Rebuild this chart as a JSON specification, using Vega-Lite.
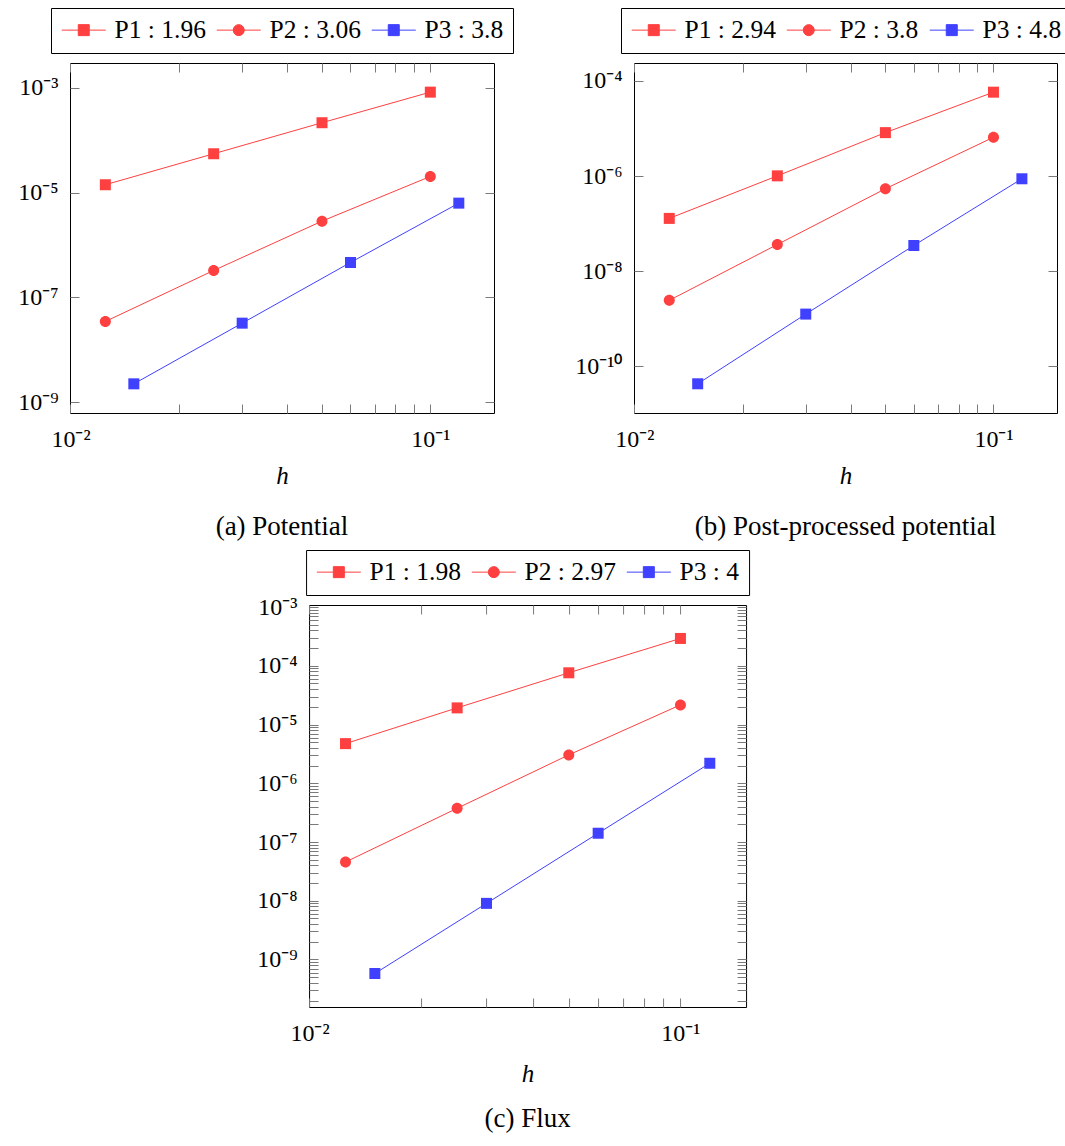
{
  "$schema": "https://vega.github.io/schema/vega-lite/v6.json",
  "background": "white",
  "padding": {"left": 17, "top": 7, "right": 0, "bottom": 0},
  "config": {
    "font": "Liberation Serif",
    "view": {"stroke": "black", "strokeWidth": 1},
    "axis": {"grid": false, "domain": false, "labelFont": "Liberation Serif", "labelFontSize": 24, "labelColor": "black", "tickColor": "#7a7a7a", "tickWidth": 1, "titleFont": "Liberation Serif", "titleFontSize": 25, "titleFontWeight": "normal", "titleFontStyle": "italic", "titleColor": "black", "labelOverlap": false, "labelFlush": false},
    "legend": {"orient": "top", "direction": "horizontal", "labelFont": "Liberation Serif", "labelFontSize": 25.5, "labelColor": "black", "labelOffset": 29, "columnPadding": 8, "padding": 9, "strokeColor": "black", "fillColor": "white", "offset": 9, "symbolSize": 484, "symbolStrokeWidth": 1, "layout": {"top": {"anchor": "middle"}}},
    "title": {"font": "Liberation Serif", "fontSize": 27, "fontWeight": "normal", "color": "black", "orient": "bottom", "anchor": "middle", "offset": 26}
  },
  "resolve": {"scale": {"color": "independent"}, "legend": {"color": "independent"}},
  "spacing": 8,
  "center": true,
  "vconcat": [
    {
      "spacing": 60,
      "resolve": {"scale": {"color": "independent"}, "legend": {"color": "independent"}},
      "hconcat": [
        {
          "title": {"text": "(a) Potential"},
          "width": 424, "height": 350,
          "data": {"values": [
            {"s": "P1 : 1.96", "h": 0.0125, "e": 1.41e-5}, {"s": "P1 : 1.96", "h": 0.025, "e": 5.5e-5}, {"s": "P1 : 1.96", "h": 0.05, "e": 2.15e-4}, {"s": "P1 : 1.96", "h": 0.1, "e": 8.24e-4},
            {"s": "P2 : 3.06", "h": 0.0125, "e": 3.47e-8}, {"s": "P2 : 3.06", "h": 0.025, "e": 3.26e-7}, {"s": "P2 : 3.06", "h": 0.05, "e": 2.85e-6}, {"s": "P2 : 3.06", "h": 0.1, "e": 2.03e-5},
            {"s": "P3 : 3.8", "h": 0.015, "e": 2.24e-9}, {"s": "P3 : 3.8", "h": 0.03, "e": 3.22e-8}, {"s": "P3 : 3.8", "h": 0.06, "e": 4.63e-7}, {"s": "P3 : 3.8", "h": 0.12, "e": 6.28e-6}
          ]},
          "layer": [
            {
              "mark": {"type": "line", "strokeWidth": 1},
              "encoding": {
                "x": {"field": "h", "type": "quantitative", "scale": {"type": "log", "domain": [0.00997, 0.1503], "nice": false},
                  "axis": {"orient": "bottom", "values": [0.01, 0.02, 0.03, 0.04, 0.05, 0.06, 0.07, 0.08, 0.09, 0.1], "tickSize": -9, "labelPadding": 23, "title": "h", "titlePadding": 12,
                    "labelExpr": "abs(log(datum.value)/LN10 - round(log(datum.value)/LN10)) < 0.001 ? '10' + replace(replace(replace(replace(replace(replace(replace(replace(replace(replace(replace('' + round(log(datum.value)/LN10), '-', '⁻'), '0', '⁰'), '1', '¹'), '2', '²'), '3', '³'), '4', '⁴'), '5', '⁵'), '6', '⁶'), '7', '⁷'), '8', '⁸'), '9', '⁹') : ''",
                    "encode": {"ticks": {"update": {"y2": {"signal": "abs(log(datum.value)/LN10 - round(log(datum.value)/LN10)) < 0.001 ? -9 : -6"}}}}}},
                "y": {"field": "e", "type": "quantitative", "scale": {"type": "log", "domain": [6.22e-10, 2.965e-3], "nice": false},
                  "axis": {"orient": "left", "values": [1e-9, 1e-7, 1e-5, 1e-3], "tickSize": -9, "labelPadding": 21, "title": null,
                    "labelExpr": "'10' + replace(replace(replace(replace(replace(replace(replace(replace(replace(replace(replace('' + round(log(datum.value)/LN10), '-', '⁻'), '0', '⁰'), '1', '¹'), '2', '²'), '3', '³'), '4', '⁴'), '5', '⁵'), '6', '⁶'), '7', '⁷'), '8', '⁸'), '9', '⁹')"}},
                "color": {"field": "s", "type": "nominal", "scale": {"domain": ["P1 : 1.96", "P2 : 3.06", "P3 : 3.8"], "range": ["#ff4040", "#ff4040", "#4040ff"]},
                  "legend": {"title": null, "symbolType": "M-1,0H3M0.5,-0.5H1.5V0.5H0.5Z",
                    "encode": {"symbols": {"update": {
                      "shape": {"signal": "indexof(datum.value, 'P2') == 0 ? 'M-1,0H3M1.5,0C1.5,0.276,1.276,0.5,1,0.5C0.724,0.5,0.5,0.276,0.5,0C0.5,-0.276,0.724,-0.5,1,-0.5C1.276,-0.5,1.5,-0.276,1.5,0Z' : 'M-1,0H3M0.5,-0.5H1.5V0.5H0.5Z'"},
                      "fill": {"signal": "indexof(datum.value, 'P3') == 0 ? '#4040ff' : '#ff4040'"},
                      "stroke": {"signal": "indexof(datum.value, 'P3') == 0 ? '#4040ff' : '#ff4040'"},
                      "strokeWidth": {"value": 1}, "opacity": {"value": 1}}}}}}
              }
            },
            {
              "transform": [{"filter": "indexof(datum.s, 'P2') != 0"}],
              "mark": {"type": "square", "size": 121, "opacity": 1, "strokeWidth": 0},
              "encoding": {
                "x": {"field": "h", "type": "quantitative",
                  "axis": {"orient": "top", "values": [0.01, 0.02, 0.03, 0.04, 0.05, 0.06, 0.07, 0.08, 0.09, 0.1], "tickSize": -9, "labels": false, "title": null,
                    "encode": {"ticks": {"update": {"y2": {"signal": "abs(log(datum.value)/LN10 - round(log(datum.value)/LN10)) < 0.001 ? 9 : 6"}}}}}},
                "y": {"field": "e", "type": "quantitative",
                  "axis": {"orient": "right", "values": [1e-9, 1e-7, 1e-5, 1e-3], "tickSize": -9, "labels": false, "title": null}},
                "color": {"field": "s", "type": "nominal", "legend": null}
              }
            },
            {
              "transform": [{"filter": "indexof(datum.s, 'P2') == 0"}],
              "mark": {"type": "point", "shape": "M1,0C1,0.552,0.552,1,0,1C-0.552,1,-1,0.552,-1,0C-1,-0.552,-0.552,-1,0,-1C0.552,-1,1,-0.552,1,0Z", "filled": true, "size": 121, "opacity": 1, "strokeWidth": 0},
              "encoding": {
                "x": {"field": "h", "type": "quantitative", "axis": null},
                "y": {"field": "e", "type": "quantitative", "axis": null},
                "color": {"field": "s", "type": "nominal", "legend": null}
              }
            }
          ],
          "resolve": {"axis": {"x": "independent", "y": "independent"}}
        },
        {
          "title": {"text": "(b) Post-processed potential"},
          "width": 423, "height": 350,
          "data": {"values": [
            {"s": "P1 : 2.94", "h": 0.0125, "e": 1.29e-7}, {"s": "P1 : 2.94", "h": 0.025, "e": 1.01e-6}, {"s": "P1 : 2.94", "h": 0.05, "e": 8.17e-6}, {"s": "P1 : 2.94", "h": 0.1, "e": 5.78e-5},
            {"s": "P2 : 3.8", "h": 0.0125, "e": 2.45e-9}, {"s": "P2 : 3.8", "h": 0.025, "e": 3.65e-8}, {"s": "P2 : 3.8", "h": 0.05, "e": 5.41e-7}, {"s": "P2 : 3.8", "h": 0.1, "e": 6.53e-6},
            {"s": "P3 : 4.8", "h": 0.015, "e": 4.33e-11}, {"s": "P3 : 4.8", "h": 0.03, "e": 1.26e-9}, {"s": "P3 : 4.8", "h": 0.06, "e": 3.48e-8}, {"s": "P3 : 4.8", "h": 0.12, "e": 8.77e-7}
          ]},
          "layer": [
            {
              "mark": {"type": "line", "strokeWidth": 1},
              "encoding": {
                "x": {"field": "h", "type": "quantitative", "scale": {"type": "log", "domain": [0.00997, 0.1503], "nice": false},
                  "axis": {"orient": "bottom", "values": [0.01, 0.02, 0.03, 0.04, 0.05, 0.06, 0.07, 0.08, 0.09, 0.1], "tickSize": -9, "labelPadding": 23, "title": "h", "titlePadding": 12,
                    "labelExpr": "abs(log(datum.value)/LN10 - round(log(datum.value)/LN10)) < 0.001 ? '10' + replace(replace(replace(replace(replace(replace(replace(replace(replace(replace(replace('' + round(log(datum.value)/LN10), '-', '⁻'), '0', '⁰'), '1', '¹'), '2', '²'), '3', '³'), '4', '⁴'), '5', '⁵'), '6', '⁶'), '7', '⁷'), '8', '⁸'), '9', '⁹') : ''",
                    "encode": {"ticks": {"update": {"y2": {"signal": "abs(log(datum.value)/LN10 - round(log(datum.value)/LN10)) < 0.001 ? -9 : -6"}}}}}},
                "y": {"field": "e", "type": "quantitative", "scale": {"type": "log", "domain": [1.054e-11, 2.371e-4], "nice": false},
                  "axis": {"orient": "left", "values": [1e-10, 1e-8, 1e-6, 1e-4], "tickSize": -9, "labelPadding": 21, "title": null,
                    "labelExpr": "'10' + replace(replace(replace(replace(replace(replace(replace(replace(replace(replace(replace('' + round(log(datum.value)/LN10), '-', '⁻'), '0', '⁰'), '1', '¹'), '2', '²'), '3', '³'), '4', '⁴'), '5', '⁵'), '6', '⁶'), '7', '⁷'), '8', '⁸'), '9', '⁹')"}},
                "color": {"field": "s", "type": "nominal", "scale": {"domain": ["P1 : 2.94", "P2 : 3.8", "P3 : 4.8"], "range": ["#ff4040", "#ff4040", "#4040ff"]},
                  "legend": {"title": null, "symbolType": "M-1,0H3M0.5,-0.5H1.5V0.5H0.5Z",
                    "encode": {"symbols": {"update": {
                      "shape": {"signal": "indexof(datum.value, 'P2') == 0 ? 'M-1,0H3M1.5,0C1.5,0.276,1.276,0.5,1,0.5C0.724,0.5,0.5,0.276,0.5,0C0.5,-0.276,0.724,-0.5,1,-0.5C1.276,-0.5,1.5,-0.276,1.5,0Z' : 'M-1,0H3M0.5,-0.5H1.5V0.5H0.5Z'"},
                      "fill": {"signal": "indexof(datum.value, 'P3') == 0 ? '#4040ff' : '#ff4040'"},
                      "stroke": {"signal": "indexof(datum.value, 'P3') == 0 ? '#4040ff' : '#ff4040'"},
                      "strokeWidth": {"value": 1}, "opacity": {"value": 1}}}}}}
              }
            },
            {
              "transform": [{"filter": "indexof(datum.s, 'P2') != 0"}],
              "mark": {"type": "square", "size": 121, "opacity": 1, "strokeWidth": 0},
              "encoding": {
                "x": {"field": "h", "type": "quantitative",
                  "axis": {"orient": "top", "values": [0.01, 0.02, 0.03, 0.04, 0.05, 0.06, 0.07, 0.08, 0.09, 0.1], "tickSize": -9, "labels": false, "title": null,
                    "encode": {"ticks": {"update": {"y2": {"signal": "abs(log(datum.value)/LN10 - round(log(datum.value)/LN10)) < 0.001 ? 9 : 6"}}}}}},
                "y": {"field": "e", "type": "quantitative",
                  "axis": {"orient": "right", "values": [1e-10, 1e-8, 1e-6, 1e-4], "tickSize": -9, "labels": false, "title": null}},
                "color": {"field": "s", "type": "nominal", "legend": null}
              }
            },
            {
              "transform": [{"filter": "indexof(datum.s, 'P2') == 0"}],
              "mark": {"type": "point", "shape": "M1,0C1,0.552,0.552,1,0,1C-0.552,1,-1,0.552,-1,0C-1,-0.552,-0.552,-1,0,-1C0.552,-1,1,-0.552,1,0Z", "filled": true, "size": 121, "opacity": 1, "strokeWidth": 0},
              "encoding": {
                "x": {"field": "h", "type": "quantitative", "axis": null},
                "y": {"field": "e", "type": "quantitative", "axis": null},
                "color": {"field": "s", "type": "nominal", "legend": null}
              }
            }
          ],
          "resolve": {"axis": {"x": "independent", "y": "independent"}}
        }
      ]
    },
    {
      "title": {"text": "(c) Flux", "offset": 20},
      "width": 437, "height": 402,
      "data": {"values": [
        {"s": "P1 : 1.98", "h": 0.0125, "e": 4.73e-6}, {"s": "P1 : 1.98", "h": 0.025, "e": 1.92e-5}, {"s": "P1 : 1.98", "h": 0.05, "e": 7.6e-5}, {"s": "P1 : 1.98", "h": 0.1, "e": 2.92e-4},
        {"s": "P2 : 2.97", "h": 0.0125, "e": 4.56e-8}, {"s": "P2 : 2.97", "h": 0.025, "e": 3.75e-7}, {"s": "P2 : 2.97", "h": 0.05, "e": 3.04e-6}, {"s": "P2 : 2.97", "h": 0.1, "e": 2.16e-5},
        {"s": "P3 : 4", "h": 0.015, "e": 5.77e-10}, {"s": "P3 : 4", "h": 0.03, "e": 9.02e-9}, {"s": "P3 : 4", "h": 0.06, "e": 1.41e-7}, {"s": "P3 : 4", "h": 0.12, "e": 2.19e-6}
      ]},
      "layer": [
        {
          "mark": {"type": "line", "strokeWidth": 1},
          "encoding": {
            "x": {"field": "h", "type": "quantitative", "scale": {"type": "log", "domain": [0.00997, 0.1503], "nice": false},
              "axis": {"orient": "bottom", "values": [0.01, 0.02, 0.03, 0.04, 0.05, 0.06, 0.07, 0.08, 0.09, 0.1], "tickSize": -9, "labelPadding": 23, "title": "h", "titlePadding": 16,
                "labelExpr": "abs(log(datum.value)/LN10 - round(log(datum.value)/LN10)) < 0.001 ? '10' + replace(replace(replace(replace(replace(replace(replace(replace(replace(replace(replace('' + round(log(datum.value)/LN10), '-', '⁻'), '0', '⁰'), '1', '¹'), '2', '²'), '3', '³'), '4', '⁴'), '5', '⁵'), '6', '⁶'), '7', '⁷'), '8', '⁸'), '9', '⁹') : ''",
                "encode": {"ticks": {"update": {"y2": {"signal": "abs(log(datum.value)/LN10 - round(log(datum.value)/LN10)) < 0.001 ? -9 : -6"}}}}}},
            "y": {"field": "e", "type": "quantitative", "scale": {"type": "log", "domain": [1.552e-10, 1.084e-3], "nice": false},
              "axis": {"orient": "left", "values": [2e-10, 3e-10, 4e-10, 5e-10, 6e-10, 7e-10, 8e-10, 9e-10, 1e-9, 2e-9, 3e-9, 4e-9, 5e-9, 6e-9, 7e-9, 8e-9, 9e-9, 1e-8, 2e-8, 3e-8, 4e-8, 5e-8, 6e-8, 7e-8, 8e-8, 9e-8, 1e-7, 2e-7, 3e-7, 4e-7, 5e-7, 6e-7, 7e-7, 8e-7, 9e-7, 1e-6, 2e-6, 3e-6, 4e-6, 5e-6, 6e-6, 7e-6, 8e-6, 9e-6, 1e-5, 2e-5, 3e-5, 4e-5, 5e-5, 6e-5, 7e-5, 8e-5, 9e-5, 1e-4, 2e-4, 3e-4, 4e-4, 5e-4, 6e-4, 7e-4, 8e-4, 9e-4, 1e-3], "tickSize": -9, "labelPadding": 21, "title": null,
                "labelExpr": "abs(log(datum.value)/LN10 - round(log(datum.value)/LN10)) < 0.001 ? '10' + replace(replace(replace(replace(replace(replace(replace(replace(replace(replace(replace('' + round(log(datum.value)/LN10), '-', '⁻'), '0', '⁰'), '1', '¹'), '2', '²'), '3', '³'), '4', '⁴'), '5', '⁵'), '6', '⁶'), '7', '⁷'), '8', '⁸'), '9', '⁹') : ''",
                "encode": {"ticks": {"update": {"x2": {"signal": "abs(log(datum.value)/LN10 - round(log(datum.value)/LN10)) < 0.001 ? 9 : 5"}}}}}},
            "color": {"field": "s", "type": "nominal", "scale": {"domain": ["P1 : 1.98", "P2 : 2.97", "P3 : 4"], "range": ["#ff4040", "#ff4040", "#4040ff"]},
              "legend": {"title": null, "symbolType": "M-1,0H3M0.5,-0.5H1.5V0.5H0.5Z",
                "encode": {"symbols": {"update": {
                  "shape": {"signal": "indexof(datum.value, 'P2') == 0 ? 'M-1,0H3M1.5,0C1.5,0.276,1.276,0.5,1,0.5C0.724,0.5,0.5,0.276,0.5,0C0.5,-0.276,0.724,-0.5,1,-0.5C1.276,-0.5,1.5,-0.276,1.5,0Z' : 'M-1,0H3M0.5,-0.5H1.5V0.5H0.5Z'"},
                  "fill": {"signal": "indexof(datum.value, 'P3') == 0 ? '#4040ff' : '#ff4040'"},
                  "stroke": {"signal": "indexof(datum.value, 'P3') == 0 ? '#4040ff' : '#ff4040'"},
                  "strokeWidth": {"value": 1}, "opacity": {"value": 1}}}}}}
          }
        },
        {
          "transform": [{"filter": "indexof(datum.s, 'P2') != 0"}],
          "mark": {"type": "square", "size": 121, "opacity": 1, "strokeWidth": 0},
          "encoding": {
            "x": {"field": "h", "type": "quantitative",
              "axis": {"orient": "top", "values": [0.01, 0.02, 0.03, 0.04, 0.05, 0.06, 0.07, 0.08, 0.09, 0.1], "tickSize": -9, "labels": false, "title": null,
                "encode": {"ticks": {"update": {"y2": {"signal": "abs(log(datum.value)/LN10 - round(log(datum.value)/LN10)) < 0.001 ? 9 : 6"}}}}}},
            "y": {"field": "e", "type": "quantitative",
              "axis": {"orient": "right", "values": [2e-10, 3e-10, 4e-10, 5e-10, 6e-10, 7e-10, 8e-10, 9e-10, 1e-9, 2e-9, 3e-9, 4e-9, 5e-9, 6e-9, 7e-9, 8e-9, 9e-9, 1e-8, 2e-8, 3e-8, 4e-8, 5e-8, 6e-8, 7e-8, 8e-8, 9e-8, 1e-7, 2e-7, 3e-7, 4e-7, 5e-7, 6e-7, 7e-7, 8e-7, 9e-7, 1e-6, 2e-6, 3e-6, 4e-6, 5e-6, 6e-6, 7e-6, 8e-6, 9e-6, 1e-5, 2e-5, 3e-5, 4e-5, 5e-5, 6e-5, 7e-5, 8e-5, 9e-5, 1e-4, 2e-4, 3e-4, 4e-4, 5e-4, 6e-4, 7e-4, 8e-4, 9e-4, 1e-3], "tickSize": -9, "labels": true, "labelOpacity": 0, "labelPadding": 55, "title": null,
                "labelExpr": "abs(log(datum.value)/LN10 - round(log(datum.value)/LN10)) < 0.001 ? '10' + replace(replace(replace(replace(replace(replace(replace(replace(replace(replace(replace('' + round(log(datum.value)/LN10), '-', '⁻'), '0', '⁰'), '1', '¹'), '2', '²'), '3', '³'), '4', '⁴'), '5', '⁵'), '6', '⁶'), '7', '⁷'), '8', '⁸'), '9', '⁹') : ''",
                "encode": {"ticks": {"update": {"x2": {"signal": "abs(log(datum.value)/LN10 - round(log(datum.value)/LN10)) < 0.001 ? -9 : -5"}}}}}},
            "color": {"field": "s", "type": "nominal", "legend": null}
          }
        },
        {
          "transform": [{"filter": "indexof(datum.s, 'P2') == 0"}],
          "mark": {"type": "point", "shape": "M1,0C1,0.552,0.552,1,0,1C-0.552,1,-1,0.552,-1,0C-1,-0.552,-0.552,-1,0,-1C0.552,-1,1,-0.552,1,0Z", "filled": true, "size": 121, "opacity": 1, "strokeWidth": 0},
          "encoding": {
            "x": {"field": "h", "type": "quantitative", "axis": null},
            "y": {"field": "e", "type": "quantitative", "axis": null},
            "color": {"field": "s", "type": "nominal", "legend": null}
          }
        }
      ],
      "resolve": {"axis": {"x": "independent", "y": "independent"}}
    }
  ]
}
